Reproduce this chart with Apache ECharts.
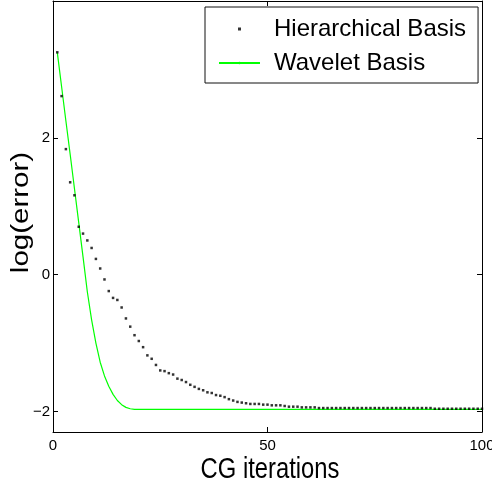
<!DOCTYPE html>
<html>
<head>
<meta charset="utf-8">
<script src="https://cdn.jsdelivr.net/npm/echarts@6/dist/echarts.min.js"></script>
<style>
  html, body { margin: 0; padding: 0; background: #fff; }
  #chart { width: 492px; height: 489px; }
</style>
</head>
<body>
<div id="chart"></div>
<script>
// CG iteration numbers 1..100
const iterations = [
  1,2,3,4,5,6,7,8,9,10,11,12,13,14,15,16,17,18,19,20,
  21,22,23,24,25,26,27,28,29,30,31,32,33,34,35,36,37,38,39,40,
  41,42,43,44,45,46,47,48,49,50,51,52,53,54,55,56,57,58,59,60,
  61,62,63,64,65,66,67,68,69,70,71,72,73,74,75,76,77,78,79,80,
  81,82,83,84,85,86,87,88,89,90,91,92,93,94,95,96,97,98,99,100
];

// log(error) per iteration, hierarchical basis preconditioner
const hierarchical = [
  3.25, 2.61, 1.835, 1.35, 1.16, 0.70, 0.60, 0.50, 0.39, 0.23,
  0.09, -0.07, -0.24, -0.34, -0.37, -0.48, -0.64, -0.76, -0.885, -0.97,
  -1.06, -1.18, -1.23, -1.32, -1.40, -1.41, -1.44, -1.46, -1.52, -1.54,
  -1.57, -1.61, -1.64, -1.67, -1.69, -1.72, -1.73, -1.76, -1.77, -1.79,
  -1.82, -1.84, -1.86, -1.87, -1.88, -1.89, -1.89, -1.89, -1.90, -1.90,
  -1.91, -1.91, -1.91, -1.92, -1.93, -1.93, -1.93, -1.94, -1.94, -1.94,
  -1.94, -1.95, -1.95, -1.95, -1.95, -1.95, -1.95, -1.95, -1.95, -1.95,
  -1.95, -1.95, -1.95, -1.95, -1.95, -1.95, -1.95, -1.95, -1.95, -1.95,
  -1.95, -1.95, -1.95, -1.95, -1.95, -1.95, -1.95, -1.95, -1.96, -1.96,
  -1.96, -1.96, -1.96, -1.96, -1.96, -1.96, -1.96, -1.96, -1.96, -1.96
];

// log(error) per iteration, wavelet basis preconditioner
const wavelet = [
  3.25, 2.75, 2.25, 1.76, 1.26, 0.76, 0.26, -0.25, -0.66, -1.00,
  -1.28, -1.48, -1.63, -1.75, -1.84, -1.90, -1.94, -1.96, -1.97, -1.97,
  -1.97, -1.97, -1.97, -1.97, -1.97, -1.97, -1.97, -1.97, -1.97, -1.97,
  -1.97, -1.97, -1.97, -1.97, -1.97, -1.97, -1.97, -1.97, -1.97, -1.97,
  -1.97, -1.97, -1.97, -1.97, -1.97, -1.97, -1.97, -1.97, -1.97, -1.97,
  -1.97, -1.97, -1.97, -1.97, -1.97, -1.97, -1.97, -1.97, -1.97, -1.97,
  -1.97, -1.97, -1.97, -1.97, -1.97, -1.97, -1.97, -1.97, -1.97, -1.97,
  -1.97, -1.97, -1.97, -1.97, -1.97, -1.97, -1.97, -1.97, -1.97, -1.97,
  -1.97, -1.97, -1.97, -1.97, -1.97, -1.97, -1.97, -1.97, -1.97, -1.97,
  -1.97, -1.97, -1.97, -1.97, -1.97, -1.97, -1.97, -1.97, -1.97, -1.97
];

const yTicks = [-2, 0, 2];
const seriesNames = ['Hierarchical Basis', 'Wavelet Basis'];
const xTitle = 'CG iterations';
const yTitle = 'log(error)';

const FONT = 'Liberation Sans, Arial, Helvetica, sans-serif';

const pairs = (ys) => iterations.map((x, i) => [x, ys[i]]);
// typographic minus for negative tick values
const tickText = (v) => String(v).replace('-', '\u2212');

const frameLine = { show: true, onZero: false, lineStyle: { color: '#000', width: 1 } };
const innerTick = { show: true, inside: true, length: 5, lineStyle: { color: '#000', width: 1 } };

const chart = echarts.init(document.getElementById('chart'), null, { renderer: 'canvas' });

chart.setOption({
  animation: false,
  backgroundColor: '#fff',
  grid: { left: 53, top: 1, right: 10, bottom: 57, containLabel: false, outerBoundsMode: 'none' },
  xAxis: [
    {
      type: 'value', position: 'bottom', min: 0, max: 100, interval: 50,
      axisLine: frameLine, axisTick: innerTick,
      axisLabel: { fontFamily: FONT, fontSize: 15, color: '#000', margin: 6, formatter: tickText },
      splitLine: { show: false }
    },
    {
      type: 'value', position: 'top', min: 0, max: 100, interval: 50,
      axisLine: frameLine, axisTick: innerTick,
      axisLabel: { show: false }, splitLine: { show: false }
    }
  ],
  yAxis: [
    {
      type: 'value', position: 'left', min: -2.3, max: 4,
      axisLine: frameLine,
      axisTick: Object.assign({ customValues: yTicks }, innerTick),
      axisLabel: { customValues: yTicks, fontFamily: FONT, fontSize: 15, color: '#000', margin: 3, formatter: tickText },
      splitLine: { show: false }
    },
    {
      type: 'value', position: 'right', min: -2.3, max: 4,
      axisLine: frameLine,
      axisTick: Object.assign({ customValues: yTicks }, innerTick),
      axisLabel: { show: false }, splitLine: { show: false }
    }
  ],
  // axis titles in a slightly condensed face
  graphic: [
    {
      type: 'text', x: 270, y: 470, scaleX: 0.82,
      style: { text: xTitle, fontFamily: FONT, fontSize: 29, fill: '#000', align: 'center', verticalAlign: 'middle' }
    },
    {
      type: 'text', x: 21.5, y: 212.5, rotation: Math.PI / 2, scaleY: 0.82,
      style: { text: yTitle, fontFamily: FONT, fontSize: 29.5, fill: '#000', align: 'center', verticalAlign: 'middle' }
    }
  ],
  legend: {
    left: 205, top: 7,
    orient: 'vertical',
    backgroundColor: '#fff',
    borderColor: '#111', borderWidth: 1,
    padding: [10, 12, 8, 13],
    itemWidth: 41, itemHeight: 3, itemGap: 10,
    textStyle: { fontFamily: FONT, fontSize: 24, lineHeight: 24, color: '#000', padding: [0, 0, 0, 9] },
    data: [
      { name: seriesNames[0], icon: 'path://M0,0h1v1h-1z', itemStyle: { color: '#000' } },
      { name: seriesNames[1] }
    ],
    z: 10
  },
  series: [
    {
      name: seriesNames[1], type: 'line', xAxisIndex: 0, yAxisIndex: 0,
      data: pairs(wavelet), showSymbol: false, symbol: 'none', smooth: false,
      lineStyle: { color: '#00ff00', width: 1.2 }, itemStyle: { color: '#00ff00' }, z: 2
    },
    {
      name: seriesNames[0], type: 'scatter', xAxisIndex: 0, yAxisIndex: 0,
      data: pairs(hierarchical), symbol: 'rect', symbolSize: 2.5,
      itemStyle: { color: '#000' }, z: 3
    }
  ]
});
</script>
</body>
</html>
